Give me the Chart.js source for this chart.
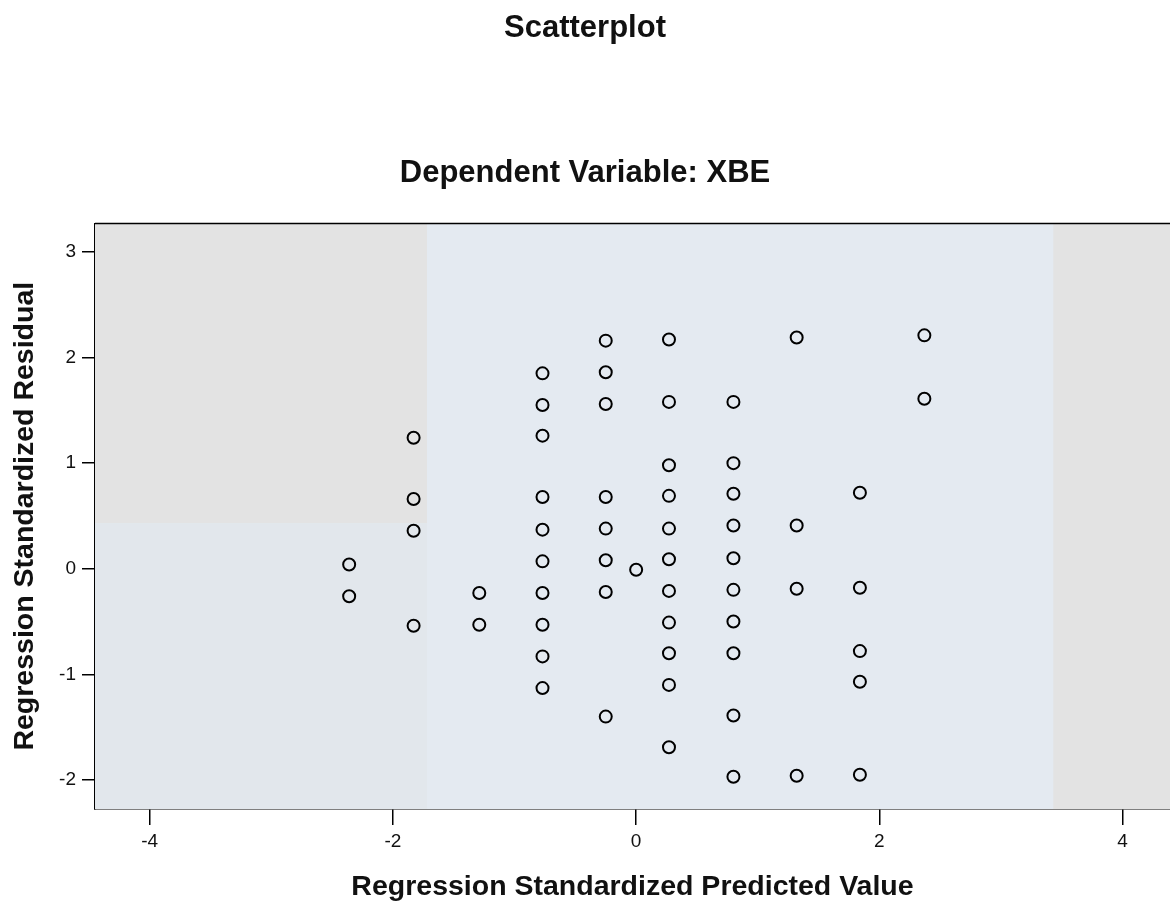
<!DOCTYPE html>
<html>
<head>
<meta charset="utf-8">
<title>Scatterplot</title>
<script src="https://cdn.jsdelivr.net/npm/chart.js@4/dist/chart.umd.min.js"></script>
<style>
  html, body { margin: 0; padding: 0; background: #ffffff; overflow: hidden; }
  #wrap { width: 1170px; height: 904px; }
</style>
</head>
<body>
<div id="wrap"><canvas id="plot" width="1170" height="904"></canvas></div>
<script>
// Regression standardized predicted values (one per column of points)
const predictedValues = [-2.36, -1.83, -1.29, -0.77, -0.25, 0.00, 0.27, 0.80, 1.32, 1.84, 2.37];

// Standardized residuals observed at each predicted value
const residualsA = [0.04, -0.26];
const residualsB = [1.24, 0.66, 0.36, -0.54];
const residualsC = [-0.23, -0.53];
const residualsD = [1.85, 1.55, 1.26, 0.68, 0.37, 0.07, -0.23, -0.53, -0.83, -1.13];
const residualsE = [2.16, 1.86, 1.56, 0.68, 0.38, 0.08, -0.22, -1.40];
const residualsF = [-0.01];
const residualsG = [2.17, 1.58, 0.98, 0.69, 0.38, 0.09, -0.21, -0.51, -0.80, -1.10, -1.69];
const residualsH = [1.58, 1.00, 0.71, 0.41, 0.10, -0.20, -0.50, -0.80, -1.39, -1.97];
const residualsI = [2.19, 0.41, -0.19, -1.96];
const residualsJ = [0.72, -0.18, -0.78, -1.07, -1.95];
const residualsK = [2.21, 1.61];

const residualColumns = [residualsA, residualsB, residualsC, residualsD, residualsE, residualsF,
                         residualsG, residualsH, residualsI, residualsJ, residualsK];

// Axis ticks
const xTickValues = [-4, -2, 0, 2, 4];
const xTickLabels = ['-4', '-2', '0', '2', '4'];
const yTickValues = [-2, -1, 0, 1, 2, 3];
const yTickLabels = ['-2', '-1', '0', '1', '2', '3'];

// Build the point list from the columns
const points = [];
predictedValues.forEach((px, i) => {
  residualColumns[i].forEach(r => points.push({ x: px, y: r }));
});

const FONT = "'Liberation Sans', Arial, sans-serif";

// Shaded plot background with grey margin bands on the left/right,
// and the frame line along the top of the plot area.
const plotFrame = {
  id: 'plotFrame',
  beforeDatasetsDraw(chart) {
    const { ctx, chartArea: a, scales: { x, y } } = chart;
    ctx.save();
    ctx.fillStyle = '#e4eaf1';
    ctx.fillRect(a.left, a.top, a.right - a.left, a.bottom - a.top);
    // grey band upper left
    const gL = x.getPixelForValue(-1.72);
    const gB = y.getPixelForValue(0.43);
    ctx.fillStyle = '#e3e3e3';
    ctx.fillRect(a.left, a.top, gL - a.left, gB - a.top);
    // slightly greyer lower left
    ctx.fillStyle = '#e2e7ec';
    ctx.fillRect(a.left, gB, gL - a.left, a.bottom - gB);
    // grey band at right
    const gR = x.getPixelForValue(3.43);
    ctx.fillStyle = '#e3e3e3';
    ctx.fillRect(gR, a.top, a.right - gR, a.bottom - a.top);
    ctx.restore();
  },
  afterDatasetsDraw(chart) {
    const { ctx, chartArea: a } = chart;
    ctx.save();
    ctx.strokeStyle = '#000';
    ctx.lineWidth = 1.5;
    ctx.beginPath();
    ctx.moveTo(a.left, a.top);
    ctx.lineTo(a.right, a.top);
    ctx.stroke();
    ctx.restore();
  }
};

new Chart(document.getElementById('plot'), {
  type: 'scatter',
  data: {
    datasets: [{
      data: points,
      pointStyle: 'circle',
      pointRadius: 6,
      pointHoverRadius: 6,
      borderWidth: 2,
      borderColor: '#000',
      backgroundColor: 'rgba(0,0,0,0)',
      clip: false
    }]
  },
  options: {
    responsive: false,
    animation: false,
    events: [],
    layout: { padding: 0, autoPadding: false },
    plugins: {
      legend: { display: false },
      tooltip: { enabled: false },
      title: {
        display: true,
        text: 'Scatterplot',
        color: '#111',
        font: { family: FONT, size: 31, weight: 'bold' },
        padding: { top: 10, bottom: 108 }
      },
      subtitle: {
        display: true,
        text: 'Dependent Variable: XBE',
        color: '#111',
        font: { family: FONT, size: 31, weight: 'bold' },
        padding: { top: 0, bottom: 31 }
      }
    },
    scales: {
      x: {
        type: 'linear',
        min: -4.45,
        max: 4.39,
        afterFit(s) { s.height = 95; },
        afterBuildTicks(s) { s.ticks = xTickValues.map(v => ({ value: v })); },
        ticks: {
          color: '#111',
          font: { family: FONT, size: 19 },
          padding: 5,
          maxRotation: 0,
          callback(v) { return xTickLabels[xTickValues.indexOf(v)]; }
        },
        grid: { drawOnChartArea: false, drawTicks: true, tickLength: 16, color: '#000', lineWidth: 1.5 },
        border: { display: true, color: '#000', width: 1.5 },
        title: {
          display: true,
          text: 'Regression Standardized Predicted Value',
          color: '#111',
          font: { family: FONT, size: 28.5, weight: 'bold' },
          padding: { top: 0, bottom: 0 }
        }
      },
      y: {
        type: 'linear',
        min: -2.275,
        max: 3.27,
        afterFit(s) { s.width = 95; },
        afterBuildTicks(s) { s.ticks = yTickValues.map(v => ({ value: v })); },
        ticks: {
          color: '#111',
          font: { family: FONT, size: 19 },
          padding: 6,
          callback(v) { return yTickLabels[yTickValues.indexOf(v)]; }
        },
        grid: { drawOnChartArea: false, drawTicks: true, tickLength: 13, color: '#000', lineWidth: 1.5 },
        border: { display: true, color: '#000', width: 1.5 },
        title: {
          display: true,
          text: 'Regression Standardized Residual',
          color: '#111',
          font: { family: FONT, size: 28.5, weight: 'bold' },
          padding: { top: 8, bottom: 0 }
        }
      }
    }
  },
  plugins: [plotFrame]
});
</script>
</body>
</html>
